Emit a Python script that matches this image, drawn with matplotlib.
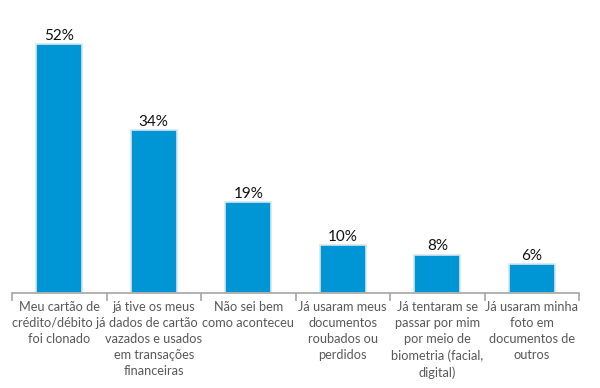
import numpy as np
import matplotlib.pyplot as plt

categories = [
    'Meu cartão de\ncrédito/débito já\nfoi clonado',
    'já tive os meus\ndados de cartão\nvazados e usados\nem transações\nfinanceiras',
    'Não sei bem\ncomo aconteceu',
    'Já usaram meus\ndocumentos\nroubados ou\nperdidos',
    'Já tentaram se\npassar por mim\npor meio de\nbiometria (facial,\ndigital)',
    'Já usaram minha\nfoto em\ndocumentos de\noutros',
]
values = [52, 34, 19, 10, 8, 6]

plt.rcParams['font.family'] = ['Lato', 'DejaVu Sans']

fig = plt.figure(figsize=(6, 3.88), dpi=100)
ax = fig.add_axes([0.02, 0.245, 0.945, 0.74])

x = np.arange(len(values))
ax.bar(x, values, width=0.49, color='#0096D6', edgecolor='#d8e6ec', linewidth=1.2)

for xi, v in zip(x, values):
    ax.text(xi, v + 0.3, f'{v}%', ha='center', va='bottom', fontsize=11, color='#111111')

ax.set_xlim(-0.5, len(values) - 0.5)
ax.set_ylim(0, 60)
ax.set_yticks([])
for s in ['top', 'right', 'left']:
    ax.spines[s].set_visible(False)
ax.spines['bottom'].set_color('#a6a6a6')
ax.spines['bottom'].set_linewidth(1.2)

ax.set_xticks(x)
ax.set_xticklabels(categories, fontsize=9.2, color='#595959', linespacing=1.4, va='top')
ax.tick_params(axis='x', which='major', length=0, pad=6)
ax.set_xticks(np.arange(len(values) + 1) - 0.5, minor=True)
ax.tick_params(axis='x', which='minor', length=6, color='#a6a6a6', width=1.2)

fig.savefig('out.png', dpi=100)
